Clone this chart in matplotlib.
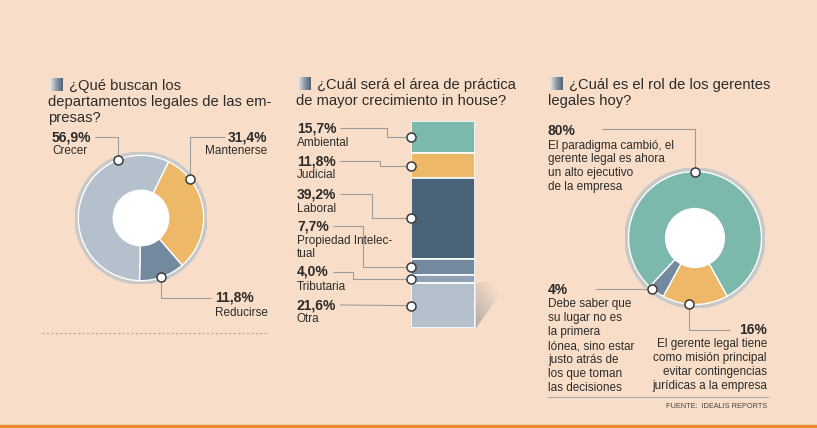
import numpy as np
import matplotlib.pyplot as plt
from matplotlib.patches import Circle, Rectangle, Polygon
from matplotlib.colors import LinearSegmentedColormap

# ---------- data ----------

# chart 1: ¿Qué buscan los departamentos legales?
c1_labels = ["Mantenerse", "Reducirse", "Crecer"]
c1_values = [31.4, 11.8, 56.9]
c1_pcts = ["31,4%", "11,8%", "56,9%"]

# chart 2: área de práctica de mayor crecimiento
c2_labels = ["Ambiental", "Judicial", "Laboral", "Propiedad Intelec-\ntual", "Tributaria", "Otra"]
c2_values = [15.7, 11.8, 39.2, 7.7, 4.0, 21.6]
c2_pcts = ["15,7%", "11,8%", "39,2%", "7,7%", "4,0%", "21,6%"]

# chart 3: rol de los gerentes legales
c3_values = [16, 4, 80]
c3_pcts = ["16%", "4%", "80%"]
c3_texts = [
    "El gerente legal tiene\ncomo misión principal\nevitar contingencias\njurídicas a la empresa",
    "Debe saber que\nsu lugar no es\nla primera\nlónea, sino estar\njusto atrás de\nlos que toman\nlas decisiones",
    "El paradigma cambió, el\ngerente legal es ahora\nun alto ejecutivo\nde la empresa",
]

# ---------- style ----------

W, H = 817, 428
BG = "#F8DEC9"
TEAL = "#7DB8AD"
ORANGE = "#EDB968"
SLATE_D = "#4A6378"
SLATE_M = "#738A9E"
SLATE_L = "#8FA2B4"
SLATE_XL = "#B4C1CD"
LINE = "#9C9C9C"
TXT = "#2B2B2B"

plt.rcParams["font.family"] = ["Liberation Sans", "DejaVu Sans"]

fig = plt.figure(figsize=(W / 100, H / 100), dpi=100)
fig.patch.set_facecolor(BG)

# overlay in pixel coords (y down) for texts and leader lines
ov = fig.add_axes([0, 0, 1, 1], zorder=5)
ov.set_xlim(0, W)
ov.set_ylim(H, 0)
ov.axis("off")
ov.patch.set_alpha(0)


def px_axes(x0, y0, w, h, **kw):
    # axes placed by pixel box (y measured from top)
    return fig.add_axes([x0 / W, 1 - (y0 + h) / H, w / W, h / H], **kw)


def to_px(ax, x, y):
    d = ax.transData.transform((x, y))
    return ov.transData.inverted().transform(d)


def marker(x, y):
    ov.plot(x, y, "o", ms=6.5, mfc="white", mec="#3A3A3A", mew=1.1, zorder=10)


def leader(pts):
    xs, ys = zip(*pts)
    ov.plot(xs, ys, color=LINE, lw=0.8, zorder=8, solid_capstyle="butt")


grad = LinearSegmentedColormap.from_list("g", ["#E9E4E2", "#8D9BA8", "#4F6477"])


def title(x, y, lines):
    ov.imshow(np.linspace(0, 1, 30)[None, :], cmap=grad, aspect="auto",
              extent=[x, x + 13, y + 5, y - 8], zorder=6)
    ov.text(x + 19, y, lines[0], fontsize=10.6, color=TXT, va="center")
    for i, ln in enumerate(lines[1:], 1):
        ov.text(x - 2, y + 16 * i, ln, fontsize=10.6, color=TXT, va="center")


def pct_label(x, y, pct, txt, ha="left"):
    ov.text(x, y, pct, fontsize=10, fontweight="bold", color=TXT, ha=ha, va="center")
    ov.text(x, y + 8.5, txt, fontsize=8.5, color=TXT, ha=ha, va="top",
            linespacing=1.21, multialignment=ha)


def donut(ax, values, colors, start):
    ax.add_patch(Circle((0, 0), 1.0, color="#C8C8C8", zorder=0))
    ax.pie(values, colors=colors, startangle=start, counterclock=False, radius=0.95,
           wedgeprops=dict(edgecolor="white", linewidth=1.0))
    ax.add_patch(Circle((0, 0), 0.42, color="white", zorder=5))
    ax.set_xlim(-1, 1)
    ax.set_ylim(-1, 1)
    ax.set_aspect("equal")
    ax.axis("off")


def edge_pt(ax, ang, r=0.95):
    a = np.deg2rad(ang)
    return to_px(ax, r * np.cos(a), r * np.sin(a))


# ---------- chart 1 ----------
title(50, 86, ["¿Qué buscan los", "departamentos legales de las em-", "presas?"])
ax1 = px_axes(75, 152, 132, 132)
donut(ax1, c1_values, [ORANGE, SLATE_M, SLATE_XL], 64)

# Mantenerse
mx, my = edge_pt(ax1, 38)
leader([(mx, my), (mx, 137), (225, 137)])
marker(mx, my)
pct_label(267, 137, c1_pcts[0], c1_labels[0], ha="right")
# Reducirse
rx, ry = edge_pt(ax1, -71)
leader([(rx, ry), (rx, 298), (211, 298)])
marker(rx, ry)
pct_label(215, 298, c1_pcts[1], c1_labels[1])
# Crecer
cx, cy = edge_pt(ax1, 112)
leader([(cx, cy), (cx, 137), (95, 137)])
marker(cx, cy)
pct_label(52, 137, c1_pcts[2], c1_labels[2])

ov.plot([42, 268], [333, 333], color="#A8A8A8", lw=0.8, ls=(0, (2, 2)))

# ---------- chart 2 ----------
title(298, 85, ["¿Cuál será el área de práctica", "de mayor crecimiento in house?"])
ax2 = px_axes(411, 121, 64, 207)
bottoms = np.concatenate([[0], np.cumsum(c2_values)[:-1]])
bar_colors = [TEAL, ORANGE, SLATE_D, SLATE_M, SLATE_L, SLATE_XL]
ax2.bar(0, c2_values, bottom=bottoms, width=1.0, color=bar_colors,
        edgecolor="white", linewidth=1.2)
ax2.set_xlim(-0.5, 0.5)
ax2.set_ylim(sum(c2_values), 0)
ax2.axis("off")

# faded shadow behind the bar
shadow = LinearSegmentedColormap.from_list("s", ["#B5ABA6", BG])
gx, gy = np.meshgrid(np.linspace(0, 1, 60), np.linspace(0, 1, 80))
sh = ov.imshow(np.clip((gx + (1 - gy)) / 1.3, 0, 1), cmap=shadow, aspect="auto",
               extent=[476, 514, 328, 275], zorder=1, vmin=0, vmax=1)
tri = Polygon([(476, 328), (476, 283), (514, 275)], closed=True, transform=ov.transData)
sh.set_clip_path(tri)

label_y = [128, 161, 194, 226, 272, 305]
elbow_x = [387, 380, 372, 363, 353, None]
line_x0 = [340, 340, 340, 333, 333, 340]
for i, (pct, lab) in enumerate(zip(c2_pcts, c2_labels)):
    mx2, my2 = to_px(ax2, -0.5, bottoms[i] + c2_values[i] / 2)
    ly = label_y[i]
    if elbow_x[i] is None:
        leader([(line_x0[i], ly), (mx2, my2)])
    else:
        leader([(line_x0[i], ly), (elbow_x[i], ly), (elbow_x[i], my2), (mx2, my2)])
    marker(mx2, my2)
    pct_label(297, ly, pct, lab)

# ---------- chart 3 ----------
title(550, 85, ["¿Cuál es el rol de los gerentes", "legales hoy?"])
ax3 = px_axes(625, 168, 140, 140)
donut(ax3, c3_values, [ORANGE, SLATE_M, TEAL], -61)

# 16%
ax_, ay_ = edge_pt(ax3, -95)
leader([(ax_, ay_), (ax_, 330), (730, 330)])
marker(ax_, ay_)
pct_label(767, 330, c3_pcts[0], c3_texts[0], ha="right")
# 4%
bx, by = edge_pt(ax3, -130)
leader([(bx, by), (596, by)])
marker(bx, by)
pct_label(548, 290, c3_pcts[1], c3_texts[1])
# 80%
tx, ty = edge_pt(ax3, 90)
leader([(tx, ty), (tx, 129), (602, 129)])
marker(tx, ty)
pct_label(548, 131, c3_pcts[2], c3_texts[2])

ov.plot([548, 768], [397, 397], color="#A8A8A8", lw=0.8)
ov.text(767, 407, "FUENTE:  IDEALIS REPORTS", fontsize=5.3, color="#444444",
        ha="right", va="center")

# bottom stripe
ov.add_patch(Rectangle((0, 425), W, 4, color="#E98A2C", zorder=2))

ov.set_xlim(0, W)
ov.set_ylim(H, 0)

fig.savefig("out.png", dpi=100, facecolor=BG)
